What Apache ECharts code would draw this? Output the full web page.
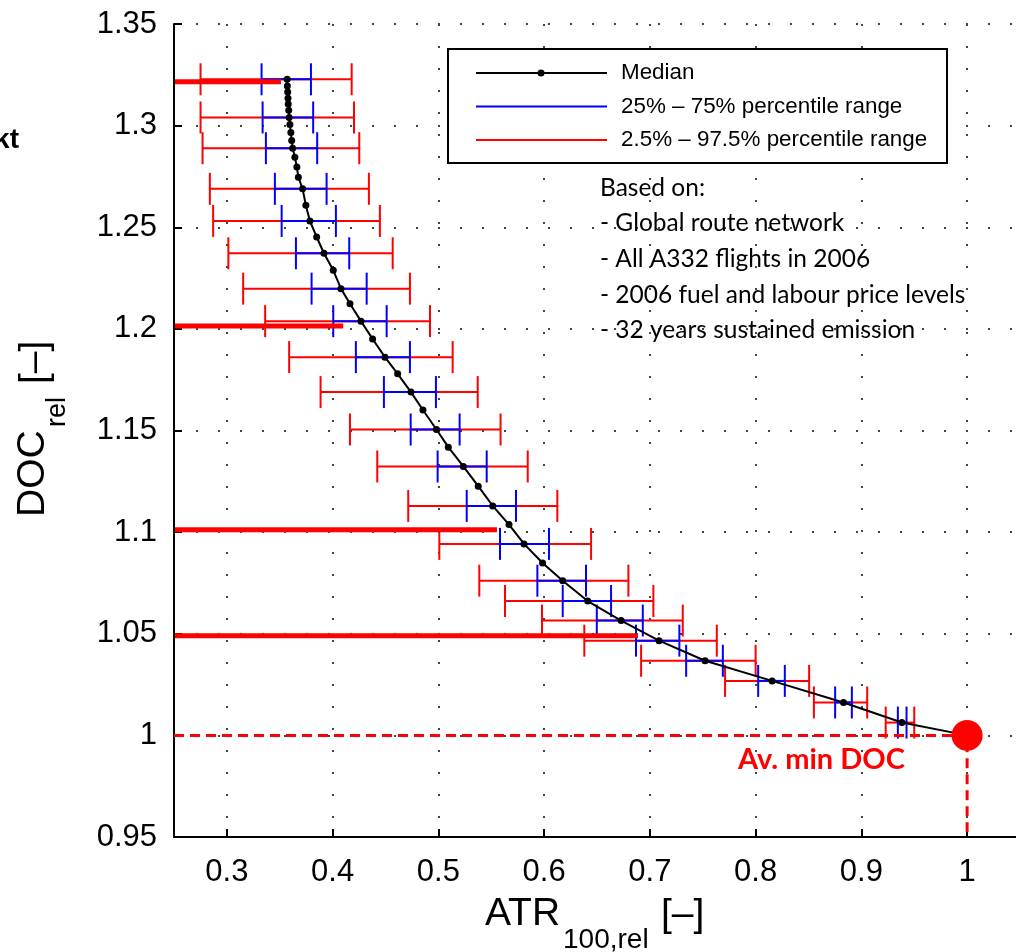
<!DOCTYPE html>
<html>
<head>
<meta charset="utf-8">
<script src="https://cdn.jsdelivr.net/npm/echarts@6/dist/echarts.min.js"></script>
<style>
html,body{margin:0;padding:0;background:#fff;}
#chart{width:1016px;height:952px;}
</style>
</head>
<body>
<div id="chart"></div>
<script>
// ---------- data ----------
const X_MIN = 0.25, X_MAX = 1.05, Y_MIN = 0.95, Y_MAX = 1.35, Y_STEP = 0.05;
const xTicks = [0.3, 0.4, 0.5, 0.6, 0.7, 0.8, 0.9, 1.0];

// median curve (ATR_rel, DOC_rel)
const medianX = [0.3570,0.3572,0.3575,0.3578,0.3580,0.3585,0.3589,0.3596,0.3605,0.3613,0.3622,0.3643,0.3662,0.3676,0.3716,0.3747,0.3785,0.3849,0.3918,0.4006,0.4079,0.4164,0.4268,0.4378,0.4495,0.4615,0.4741,0.4854,0.4982,0.5094,0.5236,0.5377,0.5514,0.5668,0.5810,0.5985,0.6176,0.6412,0.6728,0.7087,0.7522,0.8156,0.8831,0.9383,1.0];
const medianY = [1.3228,1.3195,1.3165,1.3135,1.3106,1.3076,1.3040,1.3006,1.2966,1.2927,1.2889,1.2845,1.2796,1.2746,1.2689,1.2608,1.2531,1.2452,1.2372,1.2288,1.2198,1.2124,1.2038,1.1950,1.1861,1.1779,1.1689,1.1601,1.1505,1.1418,1.1323,1.1226,1.1129,1.1037,1.0942,1.0848,1.0761,1.0661,1.0565,1.0466,1.0367,1.0268,1.0162,1.0063,1.0];

// error bar rows
const barY    = [1.3228,1.3040,1.2889,1.2689,1.2531,1.2372,1.2198,1.2038,1.1861,1.1689,1.1505,1.1323,1.1129,1.0942,1.0761,1.0661,1.0565,1.0466,1.0367,1.0268,1.0162,1.0063];
const p25     = [0.3328,0.3338,0.3369,0.3454,0.3518,0.3653,0.3801,0.4006,0.4220,0.4485,0.4738,0.4993,0.5268,0.5583,0.5936,0.6176,0.6498,0.6869,0.7343,0.8024,0.8752,0.9345];
const p75     = [0.3795,0.3816,0.3854,0.3943,0.4031,0.4157,0.4322,0.4511,0.4731,0.4977,0.5201,0.5457,0.5734,0.6046,0.6396,0.6633,0.6933,0.7279,0.7690,0.8276,0.8910,0.9427];
const p2_5    = [0.2751,0.2751,0.2770,0.2839,0.2870,0.3014,0.3154,0.3362,0.3589,0.3886,0.4164,0.4422,0.4715,0.5009,0.5387,0.5630,0.5980,0.6380,0.6917,0.7711,0.8551,0.9230];
const p97_5   = [0.4180,0.4202,0.4252,0.4343,0.4447,0.4568,0.4731,0.4921,0.5135,0.5372,0.5588,0.5845,0.6125,0.6444,0.6797,0.7033,0.7311,0.7633,0.8000,0.8506,0.9055,0.9500];

// highlighted levels (thick red lines from the axis)
const highlightY = [1.3216, 1.2014, 1.1012, 1.0490];
const highlightX = [0.3511, 0.4100, 0.5554, 0.6888];

// reference lines to the average minimum DOC point
const refX = [0.25, 1.0, 1.0];
const refY = [1.0, 1.0, 0.95];
const minDocPoint = [1.0, 1.0];

const legendLabels = ['Median', '25% \u2013 75% percentile range', '2.5% \u2013 97.5% percentile range'];
const noteLines = ['Based on:', '- Global route network', '- All A332 flights in 2006', '- 2006 fuel and labour price levels', '- 32 years sustained emission'];

// ---------- build ----------
const medianData = medianX.map((x, i) => [x, medianY[i]]);
const blueData = barY.map((y, i) => [y, p25[i], p75[i]]);
const redData = barY.map((y, i) => [y, p2_5[i], p97_5[i]]);
const hlData = highlightY.map((y, i) => [y, highlightX[i]]);
const refData = refX.map((x, i) => [x, refY[i]]);

function errRender(color) {
  return function (params, api) {
    const y = api.value(0), l = api.value(1), r = api.value(2);
    const a = api.coord([l, y]), b = api.coord([r, y]);
    const h = 16;
    const st = { stroke: color, lineWidth: 2 };
    return {
      type: 'group',
      children: [
        { type: 'line', shape: { x1: a[0], y1: a[1], x2: b[0], y2: b[1] }, style: st },
        { type: 'line', shape: { x1: a[0], y1: a[1] - h, x2: a[0], y2: a[1] + h }, style: st },
        { type: 'line', shape: { x1: b[0], y1: b[1] - h, x2: b[0], y2: b[1] + h }, style: st }
      ]
    };
  };
}

const FONT = 'Liberation Sans, Arial, Helvetica, sans-serif';
const NOTE_FONT = 'Lato, Noto Sans, sans-serif';
const fmt = v => String(Number(v.toFixed(2)));
const gridDots = { type: [2, 20], color: '#444', width: 2 };

const chart = echarts.init(document.getElementById('chart'), null, { renderer: 'canvas' });

function txt(x, y, text, font, extra) {
  return {
    type: 'text', x: x, y: y, z: 100,
    style: Object.assign({ text: text, font: font, fill: '#000', align: 'left', textAlign: 'left', verticalAlign: 'middle', textVerticalAlign: 'middle' }, extra || {})
  };
}

const legendRows = [73, 106.5, 140];
const graphic = [
  // legend box
  { type: 'rect', z: 90, shape: { x: 448, y: 49, width: 499, height: 114 }, style: { fill: '#fff', stroke: '#000', lineWidth: 2 } },
  { type: 'line', z: 91, shape: { x1: 476, y1: legendRows[0], x2: 607, y2: legendRows[0] }, style: { stroke: '#000', lineWidth: 2 } },
  { type: 'circle', z: 92, shape: { cx: 541, cy: legendRows[0], r: 3.5 }, style: { fill: '#000' } },
  { type: 'line', z: 91, shape: { x1: 476, y1: legendRows[1], x2: 607, y2: legendRows[1] }, style: { stroke: '#0000ff', lineWidth: 2 } },
  { type: 'line', z: 91, shape: { x1: 476, y1: legendRows[2], x2: 607, y2: legendRows[2] }, style: { stroke: '#ff0000', lineWidth: 2 } },
  txt(621, legendRows[0], legendLabels[0], '22.4px ' + FONT),
  txt(621, legendRows[1], legendLabels[1], '22.4px ' + FONT),
  txt(621, legendRows[2], legendLabels[2], '22.4px ' + FONT),
  // notes
  txt(600, 188, noteLines[0], '24.5px ' + NOTE_FONT),
  txt(600, 223, noteLines[1], '24.5px ' + NOTE_FONT),
  txt(600, 259, noteLines[2], '24.5px ' + NOTE_FONT),
  txt(600, 295, noteLines[3], '24.5px ' + NOTE_FONT),
  txt(600, 330, noteLines[4], '24.5px ' + NOTE_FONT),
  // Av. min DOC
  txt(738, 760, 'Av. min DOC', 'bold 29px ' + NOTE_FONT, { fill: '#ff0000' }),
  // cut-off text at left
  txt(19, 140, 'kt', 'bold 28px ' + FONT, { align: 'right', textAlign: 'right' }),
  // x axis title
  txt(485, 914, 'ATR', '39px ' + FONT),
  txt(563, 940, '100,rel', '28px ' + FONT),
  txt(661, 915, '[\u2013]', '39px ' + FONT),
  // y axis title (rotated)
  Object.assign(txt(33, 517, 'DOC', '39px ' + FONT), { rotation: Math.PI / 2 }),
  Object.assign(txt(58, 427, 'rel', '27px ' + FONT), { rotation: Math.PI / 2 }),
  Object.assign(txt(35, 384, '[\u2013]', '39px ' + FONT), { rotation: Math.PI / 2 })
];

const option = {
  animation: false,
  backgroundColor: '#fff',
  grid: { left: 174, top: 24, width: 846, bottom: 115, containLabel: false, outerBoundsMode: 'none' },
  xAxis: {
    type: 'value', min: X_MIN, max: X_MAX, splitNumber: 8,
    axisLine: { show: true, onZero: false, lineStyle: { color: '#000', width: 2 } },
    axisTick: { show: true, inside: true, length: 8, customValues: xTicks, lineStyle: { color: '#000', width: 2 } },
    axisLabel: { customValues: xTicks, formatter: fmt, fontSize: 31, color: '#000', fontFamily: FONT, margin: 20 },
    splitLine: { show: true, lineStyle: gridDots }
  },
  yAxis: {
    type: 'value', min: Y_MIN, max: Y_MAX, interval: Y_STEP,
    axisLine: { show: true, onZero: false, lineStyle: { color: '#000', width: 2 } },
    axisTick: { show: true, inside: true, length: 8, lineStyle: { color: '#000', width: 2 } },
    axisLabel: { formatter: fmt, fontSize: 31, color: '#000', fontFamily: FONT, margin: 17 },
    splitLine: { show: true, lineStyle: gridDots }
  },
  graphic: graphic,
  series: [
    { type: 'custom', name: 'p2.5-97.5', data: redData, encode: { x: [1, 2], y: 0 }, renderItem: errRender('#ff0000'), z: 2, clip: false },
    { type: 'custom', name: 'p25-75', data: blueData, encode: { x: [1, 2], y: 0 }, renderItem: errRender('#0000ff'), z: 3, clip: false },
    {
      type: 'custom', name: 'highlight', data: hlData, encode: { x: 1, y: 0 }, z: 4,
      renderItem: function (params, api) {
        const y = api.value(0), x = api.value(1);
        const a = api.coord([X_MIN, y]), b = api.coord([x, y]);
        return { type: 'line', shape: { x1: a[0] + 1, y1: a[1], x2: b[0], y2: b[1] }, style: { stroke: '#ff0000', lineWidth: 5 } };
      }
    },
    { type: 'line', name: 'ref', data: refData, symbol: 'none', z: 4, lineStyle: { color: '#ff0000', width: 3, type: [10, 6] } },
    { type: 'line', name: 'Median', data: medianData, symbol: 'circle', symbolSize: 7, showAllSymbol: true, z: 5,
      itemStyle: { color: '#000' }, lineStyle: { color: '#000', width: 2 } },
    { type: 'scatter', name: 'min DOC', data: [minDocPoint], symbol: 'circle', symbolSize: 31, z: 6, itemStyle: { color: '#ff0000', opacity: 1 } }
  ]
};
chart.setOption(option);
</script>
</body>
</html>
